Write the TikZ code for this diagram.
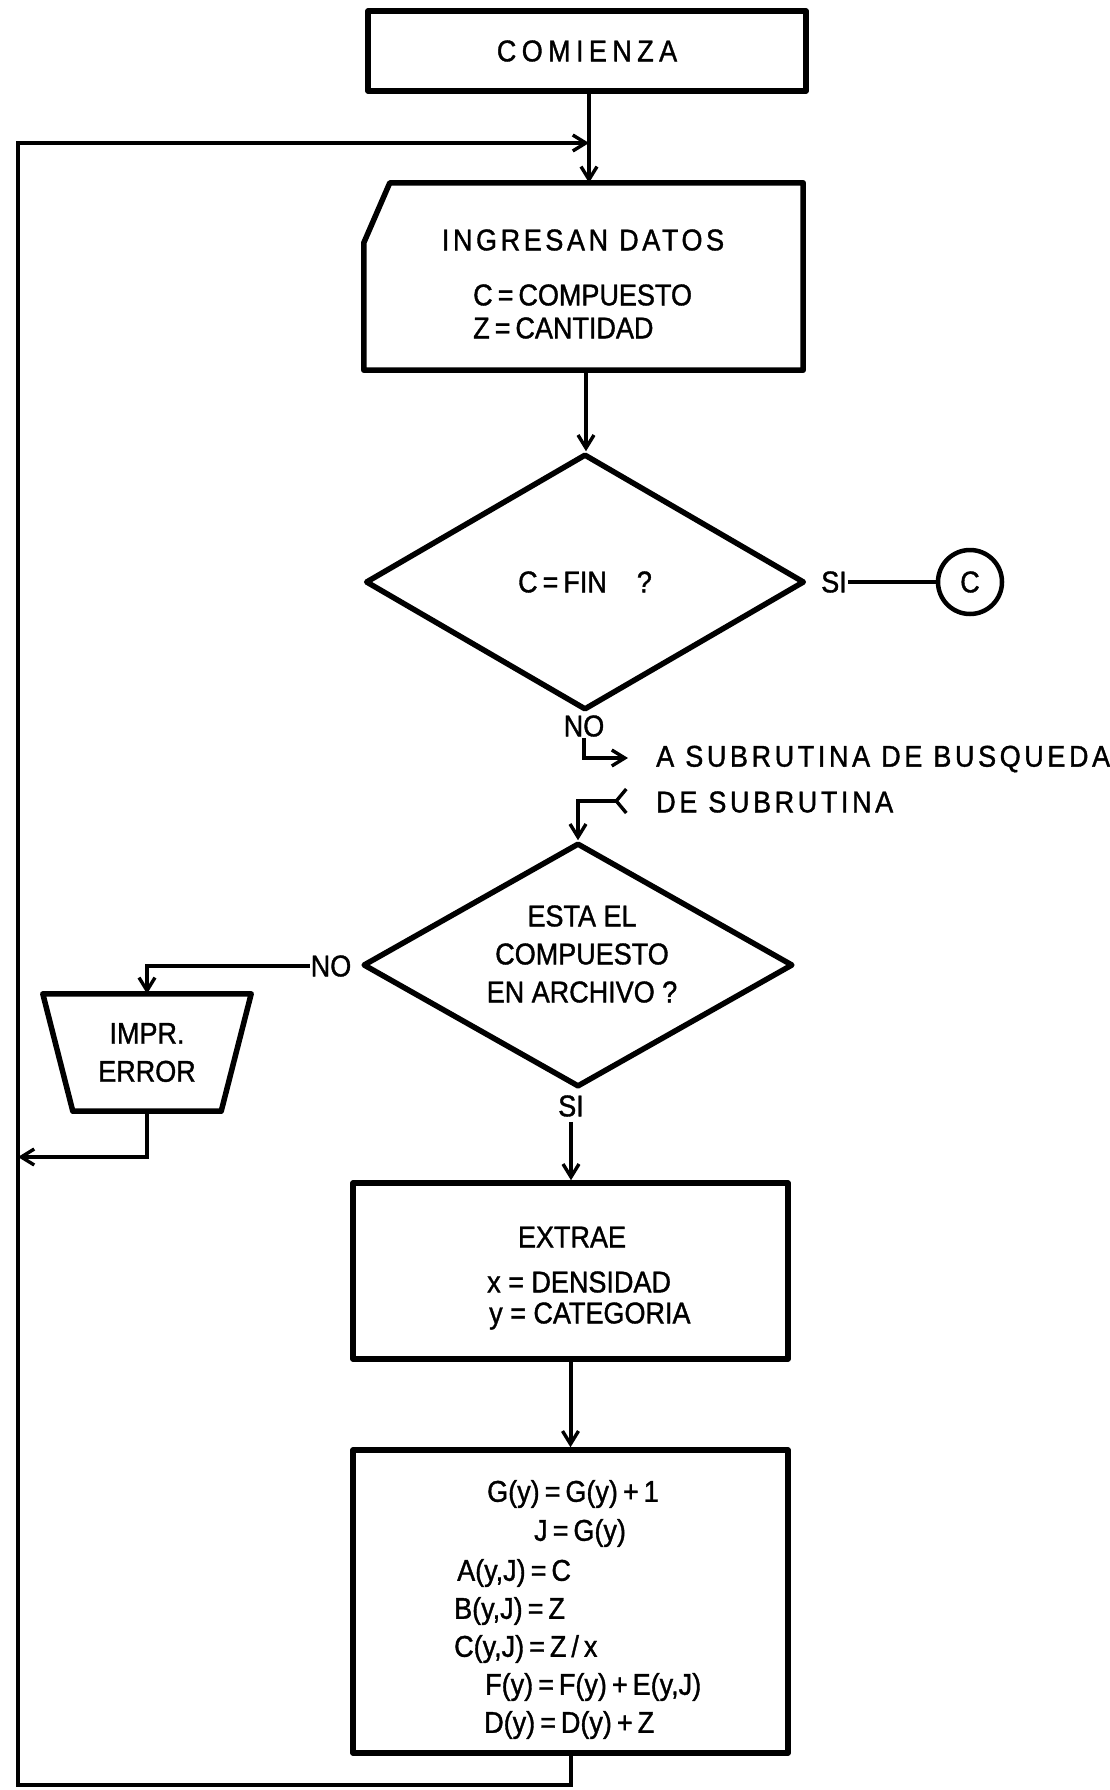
\documentclass[tikz,border=0pt]{standalone}
\usepackage{fontspec}
\setmainfont{Liberation Sans}[FakeStretch=0.9,FakeBold=1.2]
\usetikzlibrary{arrows.meta,shapes.geometric,calc}
\begin{document}
\begin{tikzpicture}[x=1pt,y=-1pt,
  boxline/.style={draw, line width=5.5pt, line join=round},
  plainbox/.style={rectangle, inner sep=0pt},
  conn/.style={line width=4pt},
  arr/.style={conn, -{Straight Barb[length=13pt,width=16pt,line width=3.4pt]}},
  lbl/.style={inner sep=1pt, font=\fontsize{30}{38}\selectfont},
  spaced/.style={lbl, font=\fontsize{30}{38}\selectfont\addfontfeatures{LetterSpace=18}}
]
\useasboundingbox (0,0) rectangle (1110,1790);
\fill[white] (0,0) rectangle (1110,1790);

% start
\node[boxline, plainbox, minimum width=438pt, minimum height=80pt, spaced] (start) at (587,51) {COMIENZA};

% input (card shape)
\node[plainbox, minimum width=439pt, minimum height=187pt] (in) at (583.5,276.5) {};
\draw[boxline] ($(in.north west)+(26pt,0pt)$) -- (in.north east) -- (in.south east) -- (in.south west) -- ($(in.north west)+(0pt,-60pt)$) -- cycle;
\node[spaced, font=\fontsize{30}{38}\selectfont\addfontfeatures{LetterSpace=12}] (intitle) at (583,240) {INGRESAN DATOS};
\node[lbl, anchor=west] (inc) at (472,295) {C\,=\,COMPUESTO};
\node[lbl, anchor=west] (inz) at (472,328) {Z\,=\,CANTIDAD};

% decision 1
\node[diamond, boxline, inner sep=0pt, minimum width=439pt, minimum height=256pt] (d1) at (585,582) {};
\node[lbl] (d1text) at (585,582) {C\,=\,FIN\quad ?};
\node[lbl] (si1) at (834,582) {SI};
\node[circle, boxline, line width=4.5pt, minimum size=64pt, inner sep=0pt, lbl] (cc) at (970,582) {C};
\node[lbl] (no1) at (584,726) {NO};
\coordinate (sub1) at (628,758);
\coordinate (sub2) at (628,801);
\node[lbl, anchor=west, font=\fontsize{30}{38}\selectfont\addfontfeatures{LetterSpace=12}] (subA) at (655,759) {A SUBRUTINA DE BUSQUEDA};
\node[lbl, anchor=west, font=\fontsize{30}{38}\selectfont\addfontfeatures{LetterSpace=12}] (subB) at (655,802) {DE SUBRUTINA};

% decision 2
\node[diamond, boxline, inner sep=0pt, minimum width=430pt, minimum height=244pt] (d2) at (578,965) {};
\node[lbl, align=center, font=\fontsize{30}{38}\selectfont] (d2text) at (582,954) {ESTA EL\\COMPUESTO\\EN ARCHIVO ?};
\node[lbl] (no2) at (331,966) {NO};
\node[lbl] (si2) at (571,1106) {SI};

% print error (trapezoid)
\node[plainbox, minimum width=208pt, minimum height=117pt, align=center, lbl] (trap) at (147,1052.5) {IMPR.\\ERROR};
\draw[boxline] (trap.north west) -- (trap.north east) -- ($(trap.south east)+(-30pt,0pt)$) -- ($(trap.south west)+(30pt,0pt)$) -- cycle;

% extract
\node[boxline, plainbox, minimum width=435pt, minimum height=176pt] (ext) at (570.5,1271) {};
\node[lbl] (exttitle) at (572,1237) {EXTRAE};
\node[lbl, anchor=west] (extx) at (486,1282) {x = DENSIDAD};
\node[lbl, anchor=west] (exty) at (488,1316) {y = CATEGORIA};

% calc
\node[boxline, plainbox, minimum width=435pt, minimum height=303pt] (calc) at (570.5,1601.5) {};
\node[lbl, anchor=west] (l1) at (486,1494) {G(y)\,=\,G(y)\,+\,1};
\node[lbl, anchor=west] (l2) at (533,1533) {J\,=\,G(y)};
\node[lbl, anchor=west] (l3) at (456,1573) {A(y,J)\,=\,C};
\node[lbl, anchor=west] (l4) at (453,1611) {B(y,J)\,=\,Z};
\node[lbl, anchor=west] (l5) at (453,1649) {C(y,J)\,=\,Z\,/\,x};
\node[lbl, anchor=west] (l6) at (484,1687) {F(y)\,=\,F(y)\,+\,E(y,J)};
\node[lbl, anchor=west] (l7) at (483,1725) {D(y)\,=\,D(y)\,+\,Z};

% loop coordinates
\coordinate (bl) at (18,1785);
\coordinate (jn) at (589,143);
\coordinate (errj) at (18,1157);

% connectors
\draw[arr] (start.south -| jn) -- (jn |- in.north);
\draw[arr] (586,370) coordinate (inb) -- (inb |- d1.north);
\draw[conn] (si1.east) -- (cc.west);
\draw[arr] (no1.south) |- (sub1);
\draw[arr, {Straight Barb[reversed,length=10pt,width=24pt,line width=3.4pt]}-{Straight Barb[length=13pt,width=16pt,line width=3.4pt]}] (sub2) -| (d2.north);
\draw[arr] (no2.west) -| (trap.north);
\draw[arr] (trap.south) |- (errj);
\draw[arr] ([yshift=-4pt]si2.south) -- (si2.south |- ext.north);
\draw[arr] (ext.south -| calc.north) -- (calc.north);
\draw[arr, line join=miter] (calc.south) |- (bl) |- (jn);
\end{tikzpicture}
\end{document}
